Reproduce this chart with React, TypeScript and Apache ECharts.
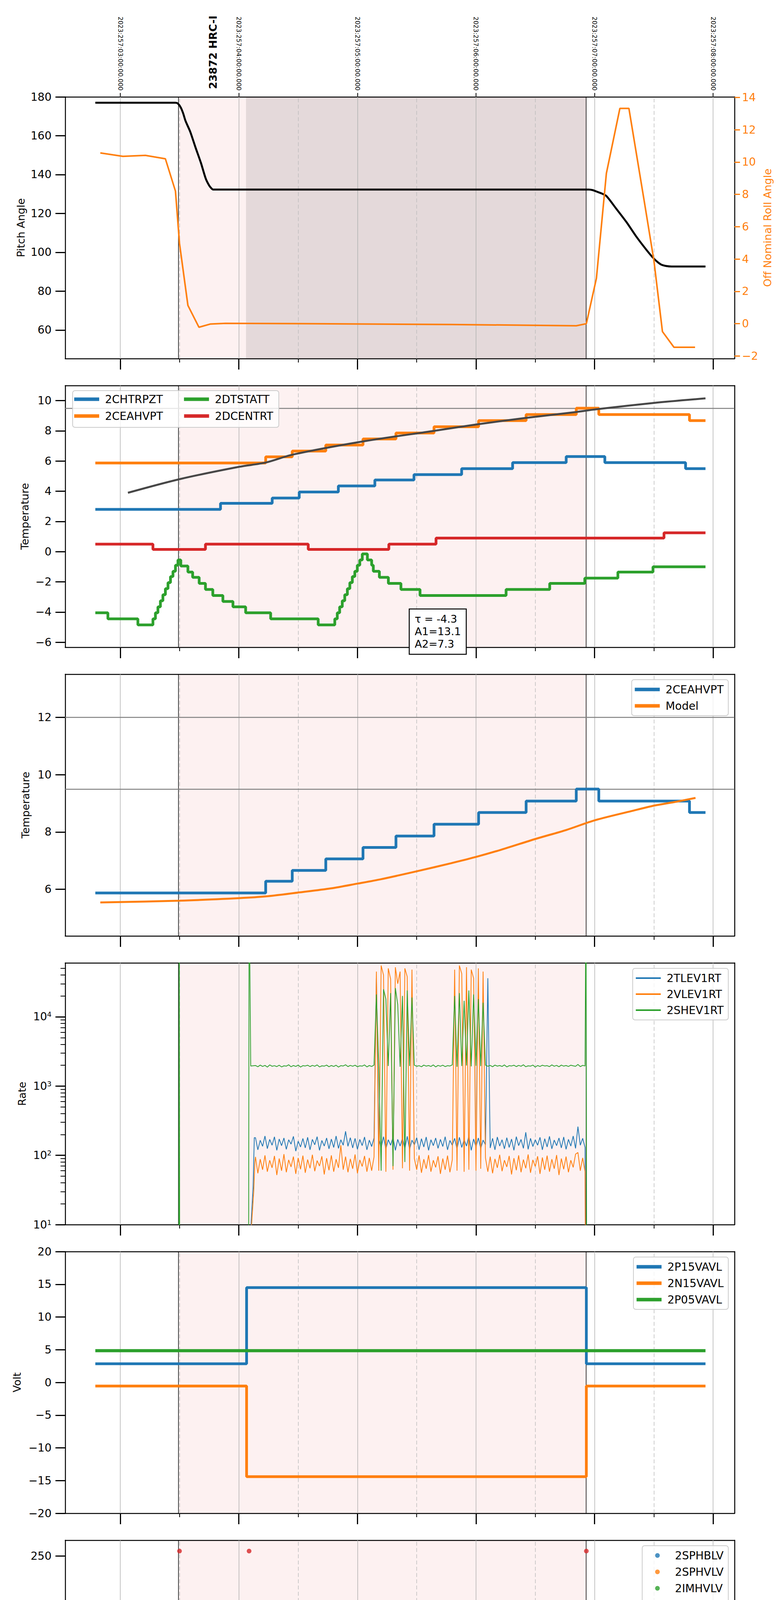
import * as echarts from 'echarts';
import { useEffect, useRef } from 'react';

// x is hours from 2023-09-14 00:00 (local time)
const X_MIN = -1.465;
const X_MAX = 4.181;
const PANEL_TOPS = [248, 987, 1726, 2465, 3204, 3943, 4682, 5421];
const PANEL_H = 670;
const FONT = 'DejaVu Sans';

const C_BLUE = '#1f77b4';
const C_ORANGE = '#ff7f0e';
const C_GREEN = '#2ca02c';
const C_RED = '#d62728';

const hourTicks = [-1, 0, 1, 2, 3, 4];
const hourLabels = ['23h', '00h', '01h', '02h', '03h', '04h'];
const halfTicks = [-0.5, 0.5, 1.5, 2.5, 3.5];
const topLabels = [
  '2023:257:03:00:00.000',
  '2023:257:04:00:00.000',
  '2023:257:05:00:00.000',
  '2023:257:06:00:00.000',
  '2023:257:07:00:00.000',
  '2023:257:08:00:00.000'
];

const obsStart = -0.505;
const obsEnd = 2.931;
const slewEnd = 0.06;

// panel 1: pitch / roll
const pitchT = [-1.211, -0.535, -0.515, -0.49, -0.47, -0.45, -0.41, -0.366, -0.32, -0.28, -0.25, -0.23, -0.218, 2.952, 2.985, 3.016, 3.06, 3.1, 3.18, 3.27, 3.35, 3.44, 3.5, 3.54, 3.565, 3.6, 3.65, 3.936];
const pitchV = [177, 177, 176.6, 174.5, 171.5, 167.6, 162, 154, 146, 138, 134.3, 132.8, 132.3, 132.3, 132.0, 131.3, 130.3, 129, 122.7, 115.5, 108.3, 101.1, 96.8, 94.6, 93.6, 93.0, 92.7, 92.7];
const rollT = [-1.169, -0.978, -0.789, -0.62, -0.535, -0.501, -0.43, -0.337, -0.239, -0.113, 0.5, 1.79, 2.846, 2.931, 3.016, 3.1, 3.214, 3.29, 3.417, 3.501, 3.573, 3.67, 3.848];
const rollV = [10.56, 10.35, 10.41, 10.2, 8.2, 4.97, 1.13, -0.22, -0.02, 0.02, 0.0, -0.05, -0.13, 0.0, 2.81, 9.3, 13.32, 13.32, 7.68, 3.9, -0.49, -1.46, -1.46];

// panel 2: temperatures
const chtrT = [-1.211, -0.155, 0.281, 0.509, 0.839, 1.147, 1.477, 1.879, 2.309, 2.761, 3.087, 3.768, 3.936];
const chtrV = [2.8, 3.2, 3.55, 3.95, 4.35, 4.75, 5.1, 5.5, 5.9, 6.3, 5.9, 5.5, 5.5];
const ceahT = [-1.211, 0.226, 0.45, 0.733, 1.047, 1.325, 1.646, 2.022, 2.423, 2.846, 3.036, 3.801, 3.936];
const ceahV = [5.87, 6.28, 6.66, 7.06, 7.46, 7.86, 8.27, 8.68, 9.08, 9.5, 9.08, 8.68, 8.68];
const dtstT = [-1.211, -1.105, -0.852, -0.725, -0.704, -0.683, -0.662, -0.641, -0.62, -0.598, -0.577, -0.556, -0.535, -0.514, -0.49, -0.43, -0.39, -0.335, -0.282, -0.22, -0.135, -0.05, 0.057, 0.268, 0.669, 0.809, 0.83, 0.85, 0.872, 0.893, 0.915, 0.936, 0.957, 0.978, 0.999, 1.02, 1.041, 1.084, 1.12, 1.134, 1.185, 1.261, 1.367, 1.528, 2.254, 2.622, 2.918, 3.197, 3.493, 3.936];
const dtstV = [-4.05, -4.45, -4.85, -4.45, -4.05, -3.65, -3.25, -2.85, -2.45, -2.05, -1.65, -1.3, -0.9, -0.55, -0.95, -1.35, -1.7, -2.1, -2.5, -2.9, -3.3, -3.65, -4.05, -4.45, -4.85, -4.45, -4.05, -3.65, -3.25, -2.85, -2.45, -2.05, -1.65, -1.3, -0.9, -0.55, -0.15, -0.55, -0.9, -1.3, -1.7, -2.1, -2.5, -2.9, -2.5, -2.1, -1.75, -1.35, -1.0, -1.0];
const dcentT = [-1.211, -0.725, -0.282, 0.585, 1.265, 1.663, 3.586, 3.936];
const dcentV = [0.5, 0.15, 0.5, 0.15, 0.5, 0.9, 1.25, 1.25];
const fitT = [-0.936, -0.501, 0.002, 0.226, 0.45, 1.047, 1.646, 2.001, 2.423, 2.846, 3.036, 3.501, 3.936];
const fitV = [3.9, 4.8, 5.62, 5.9, 6.42, 7.3, 8.0, 8.42, 8.86, 9.25, 9.45, 9.85, 10.15];
const fitNote = 'τ = -4.3\nA1=13.1\nA2=7.3';

// panel 3: 2CEAHVPT vs model
const modelT = [-1.169, -0.501, 0.002, 0.226, 0.509, 0.775, 1.004, 1.198, 1.502, 1.79, 2.001, 2.212, 2.504, 2.761, 3.003, 3.311, 3.501, 3.692, 3.852];
const modelV = [5.54, 5.6, 5.69, 5.75, 5.89, 6.03, 6.2, 6.35, 6.63, 6.91, 7.13, 7.38, 7.76, 8.07, 8.41, 8.73, 8.92, 9.06, 9.19];

// panel 4: rates, sampled from rateT0 every rateDt hours
const rateT0 = 0.14;
const rateDt = 0.02;
const rateTlev = [
  180, 120, 165, 135, 190, 125, 170, 140, 185, 118,
  172, 138, 178, 122, 168, 145, 188, 115, 160, 132,
  175, 128, 182, 120, 170, 142, 186, 118, 164, 136,
  178, 124, 172, 130, 190, 126, 168, 140, 222, 135,
  180, 128, 176, 122, 170, 138, 184, 120, 166, 134,
  178, 36000, 172, 130, 186, 124, 168, 140, 182, 118,
  170, 136, 176, 126, 188, 122, 166, 142, 180, 120,
  174, 132, 184, 118, 168, 138, 178, 126, 170, 134,
  186, 120, 164, 140, 176, 124, 182, 130, 168, 136,
  190, 118, 172, 134, 178, 126, 166, 142, 36000, 128,
  176, 120, 184, 136, 168, 124, 180, 130, 172, 118,
  186, 138, 170, 126, 215, 122, 176, 134, 168, 140,
  182, 120, 174, 132, 188, 124, 166, 138, 178, 128,
  184, 122, 170, 136, 190, 126, 260, 140, 176, 130
];
const rateVlev = [
  95, 55, 88, 62, 100, 58, 85, 66, 98, 52,
  90, 60, 104, 57, 86, 68, 96, 54, 92, 63,
  99, 56, 87, 65, 102, 59, 84, 70, 97, 53,
  91, 61, 100, 58, 88, 66, 140, 62, 96, 57,
  89, 64, 103, 55, 86, 69, 98, 58, 92, 60,
  95, 45000, 60, 55000, 40000, 58, 50000, 35000, 62, 52000,
  30000, 45000, 65, 50000, 38000, 60, 48000, 90, 62, 100,
  56, 88, 64, 101, 58, 85, 67, 97, 54, 90,
  62, 99, 57, 86, 48000, 60, 55000, 42000, 58, 52000,
  62, 48000, 36000, 60, 50000, 64, 45000, 92, 58, 96,
  55, 89, 66, 102, 59, 85, 68, 98, 53, 91,
  61, 100, 57, 87, 65, 103, 56, 86, 69, 97,
  54, 93, 62, 99, 58, 88, 64, 101, 52, 90,
  63, 96, 57, 85, 67, 104, 110, 60, 92, 58
];
const rateShev = [
  1980, 1900, 2010, 1920, 1990, 1880, 2020, 1930, 1970, 1910,
  2000, 1890, 1960, 1940, 2030, 1900, 1980, 1920, 2010, 1880,
  1970, 1950, 2000, 1910, 1990, 1930, 2020, 1890, 1960, 1940,
  2010, 1900, 1980, 1920, 2000, 1880, 1970, 1950, 2030, 1910,
  1990, 1930, 2000, 1900, 1960, 1940, 2020, 1890, 1980, 1920,
  2010, 21000, 1900, 60, 25000, 18000, 1950, 22000, 70, 26000,
  15000, 1900, 20000, 80, 24000, 1950, 19000, 2000, 1930, 1970,
  1900, 2010, 1940, 1980, 1920, 2020, 1890, 1990, 1930, 2000,
  1910, 1970, 1950, 2020, 20000, 1900, 22000, 1950, 17000, 1980,
  24000, 1920, 21000, 1960, 18000, 1940, 16000, 2000, 1930, 1990,
  1900, 2010, 1940, 1980, 1920, 2020, 1890, 1970, 1950, 2000,
  1910, 1990, 1930, 2030, 1900, 1960, 1940, 2010, 1880, 1980,
  1920, 2000, 1950, 1970, 1910, 2020, 1930, 1990, 1900, 2010,
  1940, 1980, 1920, 2000, 1960, 1930, 2050, 1910, 1990, 1950
];
const tlevPre = [[0.07, 1], [0.12, 35], [0.13, 180]];
const tlevPost = [[2.925, 1]];
const vlevPre = [[0.065, 1], [0.11, 12], [0.125, 30], [0.135, 80]];
const vlevPost = [[2.925, 1]];
const shevPre = [[-1.211, 1], [-0.507, 1], [-0.503, 1e6], [-0.499, 1], [0.082, 1], [0.086, 1e6], [0.1, 1950]];
const shevPost = [[2.928, 1e6], [2.934, 1], [3.936, 1]];

// panel 5: voltages
const voltT = [-1.211, 0.065, 2.931, 3.936];
const p15V = [2.85, 14.5, 2.85, 2.85];
const n15V = [-0.55, -14.4, -0.55, -0.55];
const p05T = [-1.211, 3.936];
const p05V = [4.85, 4.85];

// panel 6: HV monitor, sampled from hvT0 every hvDt hours
const hvT0 = 0.15;
const hvDt = 0.03;
const hvImhb = [
  86, 86.5, 86, 85.5, 86, 86, 86.5, 86, 85.5, 86,
  86, 86.5, 86, 86, 85.5, 86, 86.5, 86, 86, 85.5,
  86, 86, 86.5, 86, 85.5, 86, 86, 86.5, 86, 86,
  85.5, 86, 86.5, 86, 86, 85.5, 86, 86.5, 86, 86,
  86, 85.5, 86, 86.5, 86, 86, 85.5, 86, 86.5, 86,
  86, 86, 85.5, 86, 86.5, 86, 86, 85.5, 86, 86.5,
  86, 86, 86, 85.5, 86, 86.5, 86, 86, 85.5, 86,
  86.5, 86, 86, 85.5, 86, 86, 86.5, 86, 85.5, 86,
  86, 86.5, 86, 86, 85.5, 86, 86.5, 86, 86, 85.5,
  86, 86.5, 86
];
const hvImhv = [
  79, 78.5, 79.5, 79, 78, 79, 80, 78.5, 79, 79.5,
  78.5, 79, 80, 79, 78.5, 79.5, 79, 78, 79, 80,
  79, 78.5, 79.5, 79, 78.5, 80, 79, 78, 79.5, 79,
  78.5, 79, 80, 79, 78.5, 79.5, 79, 78, 79, 80,
  79.5, 78.5, 79, 79, 80, 78.5, 79.5, 79, 78, 79,
  80, 79, 78.5, 79.5, 79, 78, 79, 80, 78.5, 79,
  79.5, 78.5, 79, 80, 79, 78.5, 79.5, 79, 78, 79,
  80, 79, 78.5, 79.5, 79, 78.5, 80, 79, 78, 79.5,
  79, 78.5, 79, 80, 79, 78.5, 79.5, 79, 78, 79,
  80, 79, 78.5
];
const imhbExtraT = [-0.501, 0.086, 0.095, 0.095, 0.096, 0.097, 0.1, 0.101, 0.105, 0.11, 0.115, 0.12, 0.13, 0.14, 2.931, 1.248, 1.26, 1.282, 1.295, 1.401, 1.891];
const imhbExtraV = [255, 255, 127, 125, 122, 118, 106, 103, 100, 97, 93, 90, 88, 87, 255, 79, 79, 80, 79, 79, 79];
const imhvExtraT = [0.097, 0.1, 0.105, 0.11, 0.115, 0.12, 0.13, 0.14, 1.248, 1.26, 1.282, 1.295, 1.401, 1.891];
const imhvExtraV = [100, 95, 90, 86, 84, 82, 80, 79, 127, 127, 127, 127, 127, 127];

// panel 7: detector temps [t, value], step after each point
const spinatm = [
  [0.086, 3.7], [0.34, 3.25], [0.826, 3.6], [0.838, 4.0], [0.85, 4.4], [0.862, 4.8], [0.875, 5.2], [0.888, 5.6], [0.9, 6.0],
  [0.915, 6.5], [0.93, 7.0], [0.95, 7.5], [0.97, 8.0], [1.0, 8.5], [1.055, 8.0], [1.075, 7.5], [1.1, 7.0], [1.13, 6.5],
  [1.155, -5], [1.162, 6.5], [1.172, 6.0], [1.185, -5], [1.192, 6.0], [1.21, 5.5], [1.24, -5], [1.247, 5.5], [1.27, -5],
  [1.277, 5.5], [1.3, -5], [1.307, 5.1], [1.33, -5], [1.337, 5.1], [1.36, -5], [1.367, 5.1], [1.39, -5], [1.397, 5.1],
  [1.42, -5], [1.427, 5.1], [1.445, -5], [1.452, 4.6], [1.49, -5], [1.497, 4.6], [1.629, 4.15], [1.891, -5], [1.898, 4.15],
  [1.959, -5], [1.966, 4.15], [2.052, -5], [2.059, 4.15], [2.119, 3.7], [2.656, 4.15], [2.7, 3.6], [2.707, 4.15], [2.922, 4.15]
];
const sphvatm = [
  [0.069, 14.7], [0.086, 15.0], [0.522, 15.26], [0.915, 15.54], [1.155, 10.8], [1.165, 15.54], [1.177, -5], [1.184, 15.54],
  [1.232, 15.85], [1.238, 10.8], [1.246, -5], [1.253, 15.85], [1.29, 11.0], [1.298, 15.85], [1.315, 11.0], [1.323, 15.85],
  [1.34, 11.0], [1.348, 15.85], [1.365, 11.0], [1.373, 15.85], [1.39, 11.0], [1.398, 15.85], [1.42, 11.0], [1.428, 15.85],
  [1.45, 11.0], [1.458, 15.85], [1.49, 11.0], [1.498, 15.85], [1.536, 16.1], [1.745, 16.4], [1.752, 16.1], [1.811, 16.4],
  [1.83, 11.3], [1.838, 16.4], [1.88, 11.3], [1.888, 16.4], [1.955, 11.3], [1.963, 16.4], [2.052, 11.6], [2.06, 16.4],
  [2.149, 16.7], [2.474, 17.0], [2.825, 17.25], [2.922, 17.25]
];
const iminatm = [
  [0.086, 0.65], [1.134, 1.1], [1.155, 7.0], [1.162, 1.1], [1.177, -5], [1.184, 1.1], [1.24, 6.0], [1.247, 1.1],
  [1.255, -5], [1.262, 6.0], [1.27, 1.1], [1.282, 6.0], [1.29, 1.1], [1.3, 5.5], [1.307, 1.1], [1.32, 5.1], [1.327, 1.1],
  [1.34, 5.1], [1.347, 1.1], [1.36, 5.1], [1.367, 1.1], [1.385, 5.1], [1.392, 1.1], [1.41, 5.1], [1.417, 1.1],
  [1.44, 4.6], [1.447, 1.1], [1.49, 4.6], [1.497, 1.1], [1.891, 4.2], [1.898, 1.1], [1.959, 4.2], [1.966, 1.1],
  [2.052, 4.2], [2.059, 1.1], [2.119, 1.5], [2.922, 1.5]
];
const imhvatm = [
  [0.069, -5], [0.069, 14.4], [0.183, 14.75], [0.31, 15.0], [0.416, 15.25], [0.522, 15.55], [0.64, 15.9], [0.775, 16.2],
  [0.923, 16.4], [1.101, 16.7], [1.15, 15.5], [1.158, 16.7], [1.177, -5], [1.184, 16.7], [1.198, 15.8], [1.206, 16.7],
  [1.232, 15.8], [1.24, -5], [1.247, 17.0], [1.27, 15.8], [1.278, 17.0], [1.3, 15.8], [1.308, 17.0], [1.325, 15.8],
  [1.333, 17.0], [1.35, 15.8], [1.358, 17.0], [1.375, 15.8], [1.383, 17.0], [1.4, 15.8], [1.408, 17.0], [1.43, -5],
  [1.437, 17.0], [1.455, 15.8], [1.463, 17.0], [1.473, 17.3], [1.697, 17.55], [1.832, 16.4], [1.84, 17.55],
  [1.874, 16.4], [1.882, 17.55], [1.938, 17.85], [1.95, 16.4], [1.958, 17.85], [2.052, 16.4], [2.06, 17.85],
  [2.212, 18.1], [2.529, 18.45], [2.846, 18.7], [2.926, 25], [2.934, -5]
];

// panel 8: FEA temps
const fhtrmzt = [
  [-1.211, -9.2], [-0.036, -8.8], [0.31, -8.4], [0.45, -7.95], [0.564, -7.6], [0.691, -7.2], [0.817, -6.8], [0.936, -6.4],
  [1.063, -6.0], [1.177, -5.6], [1.303, -5.2], [1.43, -4.8], [1.557, -4.4], [1.693, -4.05], [1.832, -3.65], [1.967, -3.3],
  [2.107, -2.9], [2.226, -4.05], [2.233, -2.9], [2.246, -2.5], [2.402, -2.1], [2.55, -1.75], [2.698, -1.35], [2.855, -1.0],
  [3.049, -0.65], [3.184, -1.0], [3.565, -1.4], [3.84, -1.8], [3.936, -1.8]
];
const fradpyt = [
  [0.302, -10.5], [0.302, -10.05], [0.429, -9.6], [0.556, -9.2], [0.678, -8.8], [0.805, -8.4], [0.932, -8.0], [1.063, -7.6],
  [1.185, -7.2], [1.325, -6.8], [1.451, -6.4], [1.6, -6.0], [1.735, -5.6], [1.874, -5.2], [2.031, -4.8], [2.179, -4.45],
  [2.331, -4.05], [2.495, -3.65], [2.656, -3.25], [2.825, -2.9], [3.226, -3.3], [3.404, -3.7], [3.573, -4.05], [3.797, -4.45],
  [3.936, -4.45]
];
const fepratm = [
  [0.086, -7.8], [0.12, -7.4], [0.162, -7.0], [0.205, -6.6], [0.247, -6.2], [0.31, -5.8], [0.395, -5.4], [0.471, -5.0],
  [0.573, -4.6], [0.678, -4.2], [0.788, -3.8], [0.902, -3.4], [1.038, -3.0], [1.164, -2.6], [1.177, -4.7], [1.184, -2.6],
  [1.24, -4.7], [1.247, -2.6], [1.265, -4.7], [1.272, -2.6], [1.29, -4.7], [1.297, -2.6], [1.31, -4.7], [1.317, -2.2],
  [1.34, -4.7], [1.347, -2.2], [1.37, -4.7], [1.377, -2.2], [1.4, -4.7], [1.407, -2.2], [1.43, -4.7], [1.437, -1.8],
  [1.46, -4.7], [1.467, -1.8], [1.494, -4.7], [1.501, -1.8], [1.57, -1.4], [1.705, -1.0], [1.896, -4.7], [1.903, -1.0],
  [1.917, -1.5], [1.924, -0.6], [1.967, -4.7], [1.974, -0.6], [2.022, -0.2], [2.064, -4.7], [2.071, -0.2], [2.171, 0.2],
  [2.339, 0.6], [2.516, 1.0], [2.698, 1.4], [2.889, 1.4]
];
const fe00atm = [
  [0.069, -11], [0.069, -7.05], [0.12, -6.7], [0.255, -6.3], [0.34, -5.95], [0.349, -6.7], [0.356, -5.95], [0.437, -5.6],
  [0.467, -7.2], [0.474, -5.6], [0.509, -7.9], [0.516, -5.6], [0.522, -5.2], [0.615, -4.85], [0.699, -4.45], [0.796, -4.2],
  [0.86, -3.85], [0.995, -3.5], [1.092, -3.1], [1.164, -2.8], [1.177, -11], [1.184, 3], [1.19, -2.8], [1.24, -11],
  [1.247, 3], [1.255, -2.8], [1.265, 3], [1.272, -2.8], [1.29, 3], [1.297, -2.8], [1.312, -2.4], [1.33, 3], [1.337, -2.4],
  [1.355, 3], [1.362, -2.4], [1.401, -2.1], [1.43, -11], [1.437, 3], [1.444, -2.1], [1.47, 3], [1.477, -1.8], [1.494, 3],
  [1.501, -1.8], [1.57, -1.45], [1.705, -1.1], [1.811, 3], [1.818, -1.1], [1.832, 3], [1.839, -0.85], [1.874, -0.45],
  [1.891, 3], [1.898, -0.45], [1.959, 3], [1.966, -0.45], [2.022, -0.15], [2.052, 3], [2.059, -0.15], [2.162, 0.15],
  [2.276, 0.5], [2.39, 0.8], [2.499, 1.1], [2.634, 1.4], [2.706, 0.4], [2.713, 1.4], [2.761, 1.65], [2.855, 1.65],
  [2.926, 3], [2.934, -11]
];

const pairs = (t: number[], v: number[]) => t.map((x, i) => [x, v[i]]);
const sampled = (t0: number, dt: number, v: number[]) => v.map((y, i) => [t0 + i * dt, y]);
const nearest = (arr: number[], v: number) => {
  let best = 0;
  arr.forEach((a, i) => { if (Math.abs(a - v) < Math.abs(arr[best] - v)) best = i; });
  return best;
};
const num = (v: number, digits = 0) => {
  const s = Math.abs(v).toFixed(digits);
  return v < 0 ? '\u2212' + s : s;
};

type Obj = Record<string, any>;

function buildOption() {
  const grid = PANEL_TOPS.map((top) => ({ left: 167, right: 119, top, height: PANEL_H }));
  const xAxis: Obj[] = [];
  const yAxis: Obj[] = [];
  const series: Obj[] = [];
  const last = PANEL_TOPS.length - 1;
  const xi: number[] = [];

  PANEL_TOPS.forEach((_, i) => {
    xi.push(xAxis.length);
    xAxis.push({
      type: 'value', gridIndex: i, min: X_MIN, max: X_MAX, position: 'bottom',
      axisLine: { onZero: false, lineStyle: { color: '#000', width: 2.5 } },
      axisTick: { length: 28, lineStyle: { color: '#000', width: 3 }, customValues: hourTicks },
      axisLabel: {
        show: i === last, customValues: hourTicks, margin: 39, fontSize: 28, fontFamily: FONT, color: '#000',
        formatter: (v: number) => hourLabels[nearest(hourTicks, v)]
      },
      splitLine: { show: false },
      name: i === last ? '2023-09-14 (257)' : '', nameLocation: 'middle', nameGap: 72,
      nameTextStyle: { fontSize: 33, fontFamily: FONT, color: '#000' }
    });
    xAxis.push({
      type: 'value', gridIndex: i, min: X_MIN, max: X_MAX, position: 'bottom',
      axisLine: { show: false, onZero: false },
      axisTick: { length: 10, lineStyle: { color: '#000', width: 2 }, customValues: halfTicks },
      axisLabel: {
        show: i === last, customValues: halfTicks, margin: 8, fontSize: 18, fontFamily: FONT, color: '#000',
        formatter: () => '30'
      },
      splitLine: { show: false }
    });
    xAxis.push({
      type: 'value', gridIndex: i, min: X_MIN, max: X_MAX, position: 'top',
      axisLine: { onZero: false, lineStyle: { color: '#000', width: 2.5 } },
      axisTick: { show: i === 0, length: 10, lineStyle: { color: '#000', width: 2 }, customValues: hourTicks },
      axisLabel: {
        show: i === 0, customValues: hourTicks, rotate: 90, margin: 16, fontSize: 16, fontFamily: FONT, color: '#000',
        formatter: (v: number) => topLabels[nearest(hourTicks, v)]
      },
      splitLine: { show: false }
    });
  });

  const leftAxis = (i: number, o: Obj) => {
    yAxis.push({
      type: o.type || 'value', logBase: 10, gridIndex: i, position: 'left', min: o.min, max: o.max,
      name: o.name, nameLocation: 'middle', nameGap: o.gap, nameRotate: 90,
      nameTextStyle: { fontSize: 27, fontFamily: FONT, color: '#000' },
      axisLine: { show: true, onZero: false, lineStyle: { color: '#000', width: 2.5 } },
      axisTick: { show: true, length: 25, lineStyle: { color: '#000', width: 3 }, customValues: o.ticks },
      axisLabel: {
        customValues: o.ticks, margin: 35, fontSize: 28, fontFamily: FONT, color: '#000',
        formatter: o.fmt, rich: o.rich
      },
      splitLine: { show: false }
    });
    return yAxis.length - 1;
  };
  const frameAxis = (i: number, min: number, max: number) => {
    yAxis.push({
      type: 'value', gridIndex: i, position: 'right', min, max,
      axisLine: { show: true, onZero: false, lineStyle: { color: '#000', width: 2.5 } },
      axisTick: { show: false }, axisLabel: { show: false }, splitLine: { show: false }
    });
    return yAxis.length - 1;
  };

  // background shading, grid lines and limit lines for a panel
  const markers = (i: number, yIdx: number, limits: number[] = []) => {
    const areas: Obj[] = i === 0
      ? [[{ xAxis: obsStart }, { xAxis: slewEnd }], [{ xAxis: slewEnd, itemStyle: { color: '#e4d9da' } }, { xAxis: obsEnd }]]
      : [[{ xAxis: obsStart }, { xAxis: obsEnd }]];
    const lines: Obj[] = [
      ...hourTicks.map((h) => ({ xAxis: h, lineStyle: { color: '#b0b0b0', width: 1.5, type: 'solid' } })),
      ...halfTicks.map((h) => ({ xAxis: h, lineStyle: { color: '#bdbdbd', width: 1.5, type: [10, 6] } })),
      { xAxis: obsStart, lineStyle: { color: '#000', width: 1.5, type: 'solid' } },
      { xAxis: obsEnd, lineStyle: { color: '#000', width: 1.5, type: 'solid' } },
      ...limits.map((y) => ({ yAxis: y, lineStyle: { color: '#808080', width: 2.5, type: 'solid' } }))
    ];
    series.push({
      type: 'line', name: '_bg' + i, data: [], xAxisIndex: xi[i], yAxisIndex: yIdx, silent: true, z: 1,
      markArea: { silent: true, z: 0, itemStyle: { color: '#fdf1f1' }, data: areas },
      markLine: { silent: true, z: 1, symbol: ['none', 'none'], label: { show: false }, data: lines }
    });
  };

  const line = (name: string, data: any[], color: string, width: number, i: number, yIdx: number, extra: Obj = {}) => {
    series.push({
      type: 'line', name, data, xAxisIndex: xi[i], yAxisIndex: yIdx, showSymbol: false, symbol: 'none',
      lineStyle: { color, width }, itemStyle: { color }, z: 2, ...extra
    });
  };
  const step = (name: string, data: any[], color: string, width: number, i: number, yIdx: number) =>
    line(name, data, color, width, i, yIdx, { step: 'end' });

  // 0 pitch
  const y0 = leftAxis(0, { name: 'Pitch Angle', gap: 100, min: 45.3, max: 180, ticks: [60, 80, 100, 120, 140, 160, 180], fmt: (v: number) => num(v) });
  yAxis.push({
    type: 'value', gridIndex: 0, position: 'right', min: -2.16, max: 14.03,
    name: 'Off Nominal Roll Angle', nameLocation: 'middle', nameGap: 52, nameRotate: 90,
    nameTextStyle: { fontSize: 27, fontFamily: FONT, color: C_ORANGE },
    axisLine: { show: true, onZero: false, lineStyle: { color: '#000', width: 2.5 } },
    axisTick: { show: true, length: 14, lineStyle: { color: C_ORANGE, width: 3 }, customValues: [-2, 0, 2, 4, 6, 8, 10, 12, 14] },
    axisLabel: { customValues: [-2, 0, 2, 4, 6, 8, 10, 12, 14], margin: 19, fontSize: 28, fontFamily: FONT, color: C_ORANGE, formatter: (v: number) => num(v) },
    splitLine: { show: false }
  });
  const y0r = yAxis.length - 1;
  markers(0, y0);
  line('Pitch', pairs(pitchT, pitchV), '#000', 5, 0, y0, { smooth: 0.25 });
  line('Roll', pairs(rollT, rollV), C_ORANGE, 4, 0, y0r);

  // 1 temperatures
  const y1 = leftAxis(1, { name: 'Temperature', gap: 90, min: -6.33, max: 11.0, ticks: [-6, -4, -2, 0, 2, 4, 6, 8, 10], fmt: (v: number) => num(v) });
  const y1f = frameAxis(1, -6.33, 11.0);
  markers(1, y1f, [9.5]);
  step('2CHTRPZT', pairs(chtrT, chtrV), C_BLUE, 7, 1, y1);
  step('2CEAHVPT', pairs(ceahT, ceahV), C_ORANGE, 7, 1, y1);
  step('2DTSTATT', pairs(dtstT, dtstV), C_GREEN, 7, 1, y1);
  step('2DCENTRT', pairs(dcentT, dcentV), C_RED, 7, 1, y1);
  line('Fit', pairs(fitT, fitV), '#474747', 5, 1, y1, { smooth: 0.3 });

  // 2 model
  const y2 = leftAxis(2, { name: 'Temperature', gap: 88, min: 4.37, max: 13.51, ticks: [6, 8, 10, 12], fmt: (v: number) => num(v) });
  const y2f = frameAxis(2, 4.37, 13.51);
  markers(2, y2f, [12, 9.5]);
  step('2CEAHVPT', pairs(ceahT, ceahV), C_BLUE, 7, 2, y2);
  line('Model', pairs(modelT, modelV), C_ORANGE, 5, 2, y2, { smooth: 0.3 });

  // 3 rates (log)
  const y3 = leftAxis(3, {
    type: 'log', name: 'Rate', gap: 97, min: 10, max: 60000, ticks: [10, 100, 1000, 10000],
    fmt: (v: number) => '10{sup|' + Math.round(Math.log10(v)) + '}',
    rich: { sup: { fontSize: 18, fontFamily: FONT, color: '#000', verticalAlign: 'top', lineHeight: 30 } }
  });
  yAxis.push({
    type: 'log', logBase: 10, gridIndex: 3, position: 'left', min: 10, max: 60000,
    axisLine: { show: false, onZero: false },
    axisTick: {
      show: true, length: 12, lineStyle: { color: '#000', width: 2 },
      customValues: [20, 30, 40, 50, 60, 70, 80, 90, 200, 300, 400, 500, 600, 700, 800, 900, 2000, 3000, 4000, 5000, 6000, 7000, 8000, 9000, 20000, 30000, 40000, 50000]
    },
    axisLabel: { show: false }, splitLine: { show: false }
  });
  const y3f = frameAxis(3, 0, 1);
  markers(3, y3f);
  line('2TLEV1RT', [...tlevPre, ...sampled(rateT0, rateDt, rateTlev), ...tlevPost], C_BLUE, 2, 3, y3);
  line('2VLEV1RT', [...vlevPre, ...sampled(rateT0, rateDt, rateVlev), ...vlevPost], C_ORANGE, 2, 3, y3);
  line('2SHEV1RT', [...shevPre, ...sampled(rateT0, rateDt, rateShev), ...shevPost], C_GREEN, 2, 3, y3);

  // 4 volts
  const y4 = leftAxis(4, { name: 'Volt', gap: 110, min: -20, max: 20, ticks: [-20, -15, -10, -5, 0, 5, 10, 15, 20], fmt: (v: number) => num(v) });
  const y4f = frameAxis(4, -20, 20);
  markers(4, y4f);
  step('2P15VAVL', pairs(voltT, p15V), C_BLUE, 7, 4, y4);
  step('2N15VAVL', pairs(voltT, n15V), C_ORANGE, 7, 4, y4);
  step('2P05VAVL', pairs(p05T, p05V), C_GREEN, 8, 4, y4);

  // 5 HV monitor (points)
  const y5 = leftAxis(5, { name: 'HV Monitor', gap: 104, min: 0, max: 266, ticks: [0, 50, 100, 150, 200, 250], fmt: (v: number) => num(v) });
  const y5f = frameAxis(5, 0, 266);
  markers(5, y5f);
  const dots = (name: string, data: any[], color: string) =>
    series.push({
      type: 'scatter', name, data, xAxisIndex: xi[5], yAxisIndex: y5, symbol: 'circle', symbolSize: 12,
      itemStyle: { color }, z: 2
    });
  dots('2SPHBLV', [], C_BLUE);
  dots('2SPHVLV', [], C_ORANGE);
  dots('2IMHVLV', [...sampled(hvT0, hvDt, hvImhv), [2.925, 79], ...pairs(imhvExtraT, imhvExtraV)], C_GREEN);
  dots('2IMHBLV', [...sampled(hvT0, hvDt, hvImhb), [2.925, 86], ...pairs(imhbExtraT, imhbExtraV)], C_RED);

  // 6 detector temps
  const y6 = leftAxis(6, {
    name: 'Detector Temp', gap: 112, min: -0.84, max: 19.45,
    ticks: [0, 2.5, 5, 7.5, 10, 12.5, 15, 17.5], fmt: (v: number) => num(v, 1)
  });
  const y6f = frameAxis(6, -0.84, 19.45);
  markers(6, y6f);
  step('2SPINATM', spinatm, C_BLUE, 6, 6, y6);
  step('2SPHVATM', sphvatm, C_ORANGE, 6, 6, y6);
  step('2IMINATM', iminatm, C_GREEN, 6, 6, y6);
  step('2IMHVATM', imhvatm, C_RED, 6, 6, y6);

  // 7 FEA temps
  const y7 = leftAxis(7, { name: 'FEA Temp', gap: 110, min: -10.3, max: 1.72, ticks: [-10, -8, -6, -4, -2, 0], fmt: (v: number) => num(v) });
  const y7f = frameAxis(7, -10.3, 1.72);
  markers(7, y7f);
  step('2FHTRMZT', fhtrmzt, C_BLUE, 7, 7, y7);
  step('2FRADPYT', fradpyt, C_ORANGE, 7, 7, y7);
  step('2FEPRATM', fepratm, C_GREEN, 7, 7, y7);
  step('2FE00ATM', fe00atm, C_RED, 7, 7, y7);

  const text = { fontSize: 28, fontFamily: FONT, color: '#000', padding: [0, 0, 0, 10] };
  const boxed = {
    orient: 'vertical', icon: 'rect', itemWidth: 64, itemHeight: 9, itemGap: 14, padding: [11, 12, 11, 8],
    textStyle: text, backgroundColor: 'rgba(255,255,255,0.8)', borderColor: '#cccccc', borderWidth: 2,
    borderRadius: 6, z: 6, selectedMode: false, itemStyle: { borderWidth: 0 }
  };
  const item = (name: string, color: string) => ({ name, itemStyle: { color, borderWidth: 0 } });
  const legend: Obj[] = [
    {
      left: 190, top: 1008, orient: 'horizontal', icon: 'rect', itemWidth: 64, itemHeight: 9, itemGap: 54, padding: 0,
      textStyle: text, z: 6, selectedMode: false, data: [item('2CHTRPZT', C_BLUE), item('2DTSTATT', C_GREEN)]
    },
    {
      left: 190, top: 1051, orient: 'horizontal', icon: 'rect', itemWidth: 64, itemHeight: 9, itemGap: 54, padding: 0,
      textStyle: text, z: 6, selectedMode: false, data: [item('2CEAHVPT', C_ORANGE), item('2DCENTRT', C_RED)]
    },
    { ...boxed, right: 135, top: PANEL_TOPS[2] + 14, data: [item('2CEAHVPT', C_BLUE), item('Model', C_ORANGE)] },
    {
      ...boxed, right: 135, top: PANEL_TOPS[3] + 14, itemHeight: 4, itemGap: 13,
      data: [item('2TLEV1RT', C_BLUE), item('2VLEV1RT', C_ORANGE), item('2SHEV1RT', C_GREEN)]
    },
    {
      ...boxed, right: 135, top: PANEL_TOPS[4] + 14,
      data: [item('2P15VAVL', C_BLUE), item('2N15VAVL', C_ORANGE), item('2P05VAVL', C_GREEN)]
    },
    {
      ...boxed, right: 135, top: PANEL_TOPS[5] + 14, icon: 'circle', itemWidth: 12, itemHeight: 12,
      padding: [11, 12, 11, 33], textStyle: { ...text, padding: [0, 0, 0, 34] },
      data: [item('2SPHBLV', C_BLUE), item('2SPHVLV', C_ORANGE), item('2IMHVLV', C_GREEN), item('2IMHBLV', C_RED)]
    },
    {
      ...boxed, right: 135, top: PANEL_TOPS[6] + 12,
      data: [item('2SPINATM', C_BLUE), item('2SPHVATM', C_ORANGE), item('2IMINATM', C_GREEN), item('2IMHVATM', C_RED)]
    },
    {
      ...boxed, left: 183, top: PANEL_TOPS[7] + 13,
      data: [item('2FHTRMZT', C_BLUE), item('2FRADPYT', C_ORANGE), item('2FEPRATM', C_GREEN), item('2FE00ATM', C_RED)]
    }
  ];

  const graphic = [
    {
      type: 'rect', z: 5, silent: true, shape: { x: 186, y: 1000, width: 528, height: 94, r: 6 },
      style: { fill: 'rgba(255,255,255,0.8)', stroke: '#cccccc', lineWidth: 2 }
    },
    {
      type: 'rect', z: 10, silent: true, shape: { x: 1048, y: 1559, width: 146, height: 116 },
      style: { fill: '#fff', stroke: '#000', lineWidth: 2.5 }
    },
    {
      type: 'text', z: 11, silent: true, x: 1062, y: 1568,
      style: { text: fitNote, font: '27px "DejaVu Sans"', fill: '#000', lineHeight: 32, align: 'left', verticalAlign: 'top' }
    },
    {
      type: 'text', z: 11, silent: true, x: 545, y: 228, rotation: Math.PI / 2,
      style: { text: '23872 HRC-I', font: 'bold 27px "DejaVu Sans"', fill: '#000', align: 'left', verticalAlign: 'middle' }
    }
  ];

  return {
    animation: false,
    backgroundColor: '#fff',
    textStyle: { fontFamily: FONT },
    grid, xAxis, yAxis, series, legend, graphic
  };
}

export default function App() {
  const ref = useRef<HTMLDivElement>(null);

  useEffect(() => {
    document.body.style.margin = '0';
    if (!ref.current) return;
    const chart = echarts.init(ref.current, undefined, { renderer: 'svg' });
    chart.setOption(buildOption() as any);
    return () => chart.dispose();
  }, []);

  return <div ref={ref} style={{ width: 2000, height: 6200 }} />;
}
